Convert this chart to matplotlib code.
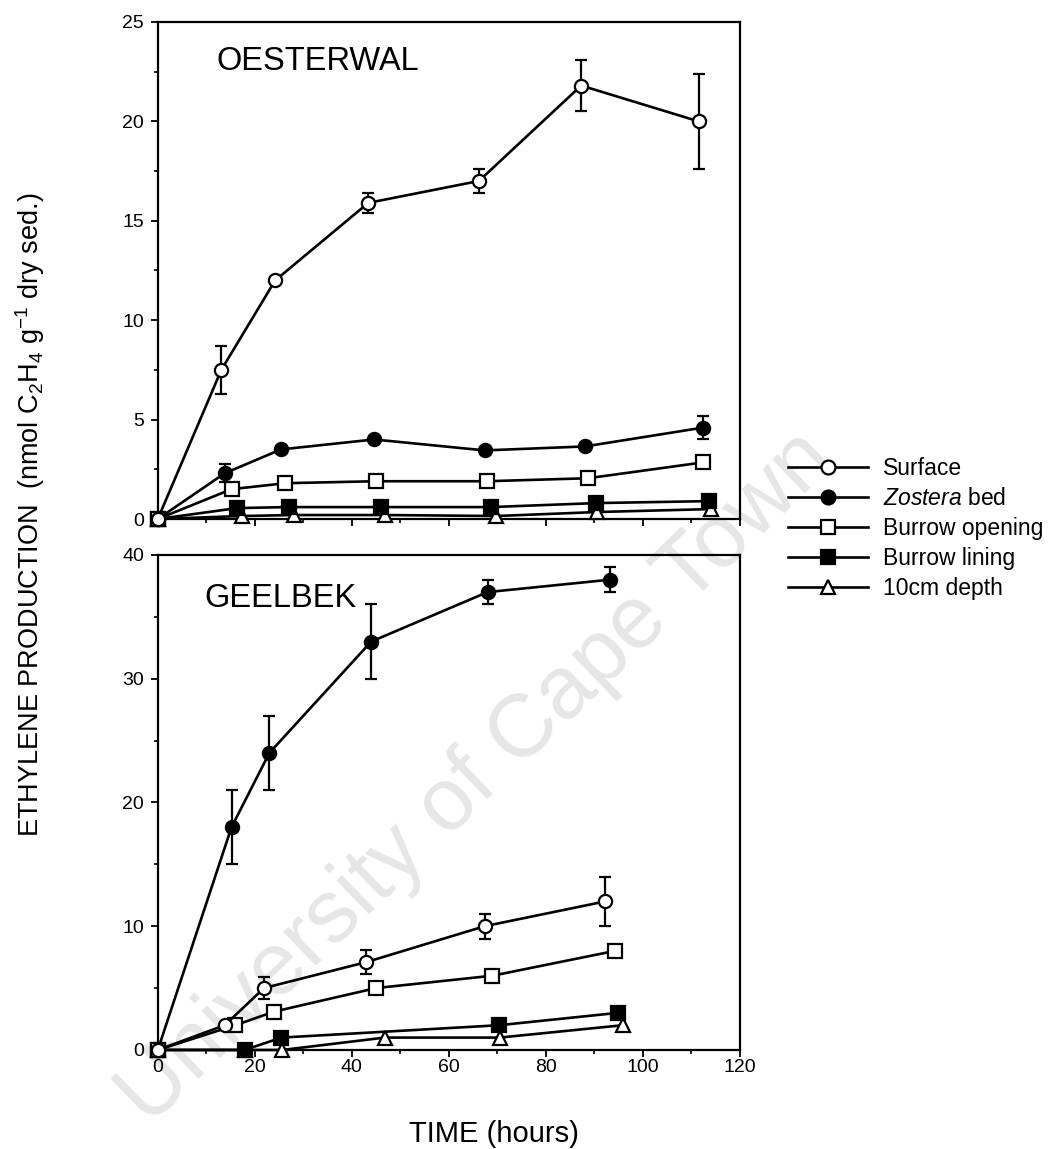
import numpy as np
import matplotlib
matplotlib.use('Agg')
import matplotlib.pyplot as plt
from matplotlib.ticker import MultipleLocator

plt.rcParams['font.family'] = ['Liberation Sans', 'DejaVu Sans']
plt.rcParams['mathtext.fontset'] = 'custom'
plt.rcParams['mathtext.rm'] = 'Liberation Sans'
plt.rcParams['mathtext.it'] = 'Liberation Sans:italic'

# Oesterwal incubations (hours, nmol C2H4 / g dry sed.)
oe_surface_t = [0, 13.1, 24.2, 43.4, 66.2, 87.3, 111.5]
oe_surface_y = [0, 7.5, 12.0, 15.9, 17.0, 21.8, 20.0]
oe_surface_e = [0, 1.2, 0, 0.5, 0.6, 1.3, 2.4]
oe_zostera_t = [0, 13.8, 25.4, 44.6, 67.4, 88.1, 112.5]
oe_zostera_y = [0, 2.3, 3.5, 4.0, 3.45, 3.65, 4.6]
oe_zostera_e = [0, 0.45, 0, 0, 0, 0, 0.6]
oe_opening_t = [0, 15.2, 26.3, 44.9, 67.9, 88.7, 112.5]
oe_opening_y = [0, 1.5, 1.8, 1.9, 1.9, 2.05, 2.85]
oe_lining_t = [0, 16.4, 27.1, 46.0, 68.7, 90.3, 113.7]
oe_lining_y = [0, 0.55, 0.6, 0.6, 0.6, 0.8, 0.9]
oe_depth_t = [0, 17.3, 28.1, 46.8, 69.8, 90.5, 114.1]
oe_depth_y = [0, 0.15, 0.2, 0.2, 0.15, 0.35, 0.5]

# Geelbek incubations
ge_surface_t = [0, 13.8, 21.9, 43.0, 67.4, 92.2]
ge_surface_y = [0, 2, 5, 7.1, 10, 12]
ge_surface_e = [0, 0, 0.9, 1, 1, 2]
ge_zostera_t = [0, 15.2, 23.0, 44.0, 68.0, 93.2]
ge_zostera_y = [0, 18, 24, 33, 37, 38]
ge_zostera_e = [0, 3, 3, 3, 1, 1]
ge_opening_t = [0, 16.0, 24.0, 45.0, 69.0, 94.2]
ge_opening_y = [0, 2, 3.1, 5, 6, 8]
ge_lining_t = [0, 17.9, 25.5, 70.4, 94.9]
ge_lining_y = [0, 0, 1, 2, 3]
ge_depth_t = [0, 17.9, 25.7, 46.8, 70.5, 95.9]
ge_depth_y = [0, 0, 0, 1, 1, 2]

labels = ['Surface', r'$\mathit{Zostera}$ bed', 'Burrow opening', 'Burrow lining', '10cm depth']
styles = [dict(marker='o', mfc='white'), dict(marker='o', mfc='black'),
          dict(marker='s', mfc='white'), dict(marker='s', mfc='black'),
          dict(marker='^', mfc='white')]

fig = plt.figure(figsize=(10.59, 11.49), dpi=100)

# faint diagonal watermark, kept behind the panels
fig.text(0.45, 0.322, 'University of Cape Town', fontsize=64, color='#e6e6e6',
         rotation=44, ha='center', va='center', zorder=-5)

ax1 = fig.add_axes([0.149, 0.5483, 0.5496, 0.4326])
ax2 = fig.add_axes([0.149, 0.0862, 0.5496, 0.4308])

def draw(ax, t, y, st, err=None, z=3):
    kw = dict(color='black', lw=1.9, ms=9.5, mec='black', mew=1.6, zorder=z, clip_on=False, **st)
    if err is not None:
        e = np.array(err, dtype=float)
        ax.errorbar(t, y, yerr=np.where(e > 0, e, np.nan), capsize=4, elinewidth=1.6,
                    capthick=1.6, ecolor='black', **kw)
    else:
        ax.plot(t, y, **kw)

top = [(oe_surface_t, oe_surface_y, oe_surface_e), (oe_zostera_t, oe_zostera_y, oe_zostera_e),
       (oe_opening_t, oe_opening_y, None), (oe_lining_t, oe_lining_y, None),
       (oe_depth_t, oe_depth_y, None)]
bot = [(ge_surface_t, ge_surface_y, ge_surface_e), (ge_zostera_t, ge_zostera_y, ge_zostera_e),
       (ge_opening_t, ge_opening_y, None), (ge_lining_t, ge_lining_y, None),
       (ge_depth_t, ge_depth_y, None)]

for i, ((t, y, e), st) in enumerate(zip(top, styles)):
    draw(ax1, t, y, st, e, z=8 - i)
for i, ((t, y, e), st) in enumerate(zip(bot, styles)):
    draw(ax2, t, y, st, e, z=8 - i)

for ax, ymax, major in [(ax1, 25, 5), (ax2, 40, 10)]:
    ax.set_xlim(0, 120)
    ax.set_ylim(0, ymax)
    ax.xaxis.set_major_locator(MultipleLocator(20))
    ax.xaxis.set_minor_locator(MultipleLocator(10))
    ax.yaxis.set_major_locator(MultipleLocator(major))
    ax.yaxis.set_minor_locator(MultipleLocator(major / 2))
    ax.tick_params(which='major', direction='out', length=5, width=1.3, labelsize=14)
    ax.tick_params(which='minor', direction='out', length=3, width=1.2)
    ax.tick_params(axis='y', pad=5)
    ax.tick_params(axis='x', pad=1.5)
    for s in ax.spines.values():
        s.set_linewidth(1.6)
    ax.set_facecolor('none')

ax1.tick_params(axis='x', labelbottom=False)
ax1.text(12.2, 23.0, 'OESTERWAL', fontsize=23.5, va='center')
ax2.text(9.7, 36.5, 'GEELBEK', fontsize=23.5, va='center')

fig.text(0.466, 0.0255, 'TIME (hours)', fontsize=21, ha='center', va='top')
fig.text(0.028, 0.552, r'ETHYLENE PRODUCTION  (nmol C$_2$H$_4$ g$^{\mathregular{-1}}$ dry sed.)',
         fontsize=19.5, rotation=90, ha='center', va='center')

handles = [plt.Line2D([], [], color='black', lw=1.9, ms=10, mec='black', mew=1.6, **st)
           for st in styles]
fig.legend(handles, labels, loc='upper left', bbox_to_anchor=(0.744, 0.602), frameon=False,
           fontsize=16.5, handlelength=3.5, handletextpad=0.65, labelspacing=0.3,
           borderpad=0, borderaxespad=0)

fig.savefig('out.png', dpi=100, facecolor='white')
